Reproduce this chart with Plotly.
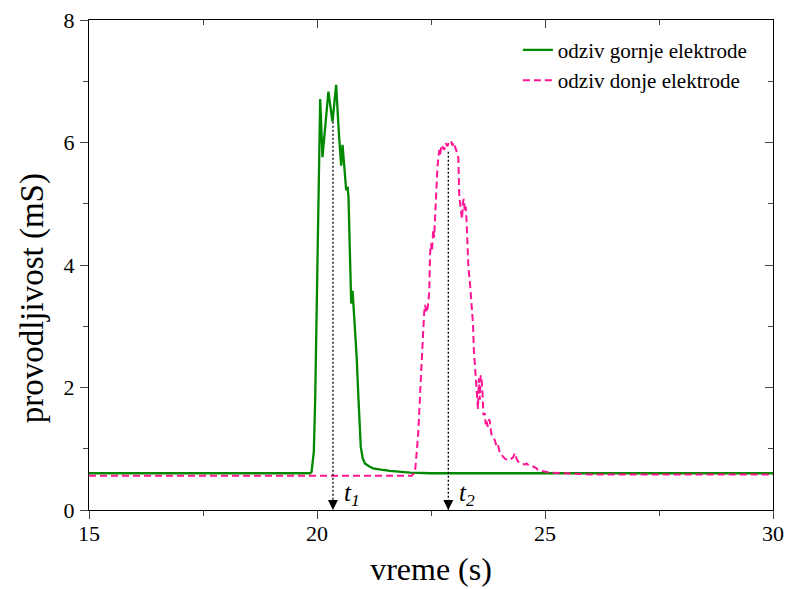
import plotly.graph_objects as go

# odziv gornje elektrode (green, solid)
t_gornja = [15, 19.85, 19.88, 19.93, 19.96, 19.99, 20.07, 20.12, 20.18, 20.25, 20.34, 20.42,
            20.48, 20.53, 20.56, 20.64, 20.67, 20.69, 20.75, 20.78, 20.82, 20.87, 20.91, 20.96,
            21.0, 21.05, 21.15, 21.23, 21.4, 21.6, 22.04, 22.5, 25, 30]
g_gornja = [0.6, 0.6, 0.62, 0.95, 1.8, 3.13, 6.71, 5.76, 6.31, 6.83, 6.34, 6.94,
            6.15, 5.62, 5.96, 5.22, 5.28, 5.12, 3.37, 3.58, 3.1, 2.5, 1.8, 1.03,
            0.85, 0.76, 0.71, 0.68, 0.66, 0.64, 0.61, 0.6, 0.6, 0.6]

# odziv donje elektrode (pink, dashed)
t_donja = [15, 22.08, 22.15, 22.22, 22.29, 22.33, 22.35, 22.37, 22.40, 22.43, 22.46, 22.48,
           22.50, 22.52, 22.55, 22.57, 22.59, 22.61, 22.64, 22.68, 22.70, 22.73, 22.76, 22.79,
           22.82, 22.86, 22.90, 22.94, 22.97, 23.00, 23.05, 23.10, 23.12, 23.15, 23.18, 23.20,
           23.22, 23.24, 23.26, 23.28, 23.30, 23.32, 23.36, 23.40, 23.42, 23.44, 23.47, 23.49,
           23.51, 23.53, 23.55, 23.57, 23.59, 23.61, 23.63, 23.65, 23.68, 23.70, 23.72, 23.74,
           23.77, 23.79, 23.82, 23.86, 23.90, 23.94, 23.97, 24.01, 24.06, 24.12, 24.18, 24.23,
           24.30, 24.34, 24.38, 24.41, 24.46, 24.52, 24.56, 24.60, 24.66, 24.74, 24.80, 24.85,
           24.96, 25.11, 25.4, 26, 30]
g_donja = [0.56, 0.56, 0.62, 1.25, 2.34, 3.0, 3.21, 3.35, 3.22, 3.32, 3.54, 4.19,
           4.35, 4.22, 4.58, 4.45, 4.84, 5.28, 5.58, 5.88, 5.80, 5.96, 5.92, 5.88,
           5.99, 5.94, 6.01, 6.03, 5.95, 6.0, 5.88, 5.75, 5.12, 4.90, 4.75, 5.02,
           5.08, 4.88, 4.96, 4.72, 4.41, 3.97, 3.65, 3.32, 3.05, 2.61, 2.30, 2.18,
           1.95, 1.65, 2.15, 1.80, 2.20, 2.12, 1.90, 1.55, 1.58, 1.40, 1.47, 1.36,
           1.48, 1.45, 1.25, 1.18, 1.14, 1.03, 1.06, 0.93, 0.88, 0.84, 0.82, 0.82,
           0.86, 0.93, 0.83, 0.79, 0.78, 0.76, 0.74, 0.76, 0.72, 0.71, 0.69, 0.65,
           0.63, 0.61, 0.6, 0.58, 0.58]

# t1, t2 markers
t_oznake = [20.35, 22.88]
t_vrh = [6.34, 5.85]
t_tekst = ["<i>t</i><sub><i>1</i></sub>", "<i>t</i><sub><i>2</i></sub>"]

FONT = "Liberation Serif"

fig = go.Figure()

fig.add_trace(go.Scatter(x=t_gornja, y=g_gornja, mode="lines", name="odziv gornje elektrode",
                         line=dict(color="#008800", width=2.3)))
fig.add_trace(go.Scatter(x=t_donja, y=g_donja, mode="lines", name="odziv donje elektrode",
                         line=dict(color="#ff1493", width=2, dash="7px,4px")))

# dotted drop lines with arrow heads
for tx, top in zip(t_oznake, t_vrh):
    fig.add_trace(go.Scatter(x=[tx, tx], y=[top, 0], mode="lines", showlegend=False,
                             line=dict(color="black", width=1.3, dash="2px,2px")))
fig.add_trace(go.Scatter(x=t_oznake, y=[0, 0], mode="markers", showlegend=False,
                         marker=dict(symbol="arrow-down", size=10, color="black")))

# empty trace to get top/right axes with inner ticks
fig.add_trace(go.Scatter(x=[], y=[], xaxis="x2", yaxis="y2", showlegend=False))

for tx, txt in zip(t_oznake, t_tekst):
    fig.add_annotation(x=tx + 0.2, y=0.25, text=txt, showarrow=False, xanchor="left",
                       font=dict(family=FONT, size=25, color="black"))

# y title sits a bit below the middle of the axis, like in the original
fig.add_annotation(text="provodljivost (mS)", textangle=-90, showarrow=False,
                   xref="paper", yref="paper", x=0, y=0.432, xanchor="center", yanchor="middle",
                   xshift=-57, font=dict(family=FONT, size=33, color="black"))

fig.update_layout(
    width=785, height=589,
    margin=dict(l=89, r=12, t=20, b=79),
    paper_bgcolor="white", plot_bgcolor="white",
    font=dict(family=FONT, color="black"),
    showlegend=True,
    legend=dict(x=0.627, y=0.98, xanchor="left", yanchor="top", bgcolor="rgba(0,0,0,0)",
                font=dict(family=FONT, size=21, color="black"), tracegroupgap=0),
    xaxis=dict(range=[15, 30], dtick=5, ticks="outside", ticklen=8, tickwidth=1.3,
               showline=True, linecolor="black", linewidth=1.3, mirror=True,
               showgrid=False, zeroline=False, automargin=False, ticklabelstandoff=-5,
               minor=dict(dtick=2.5, ticks="outside", ticklen=5, tickwidth=1.3),
               tickfont=dict(family=FONT, size=22, color="black"),
               title=dict(text="vreme (s)", font=dict(family=FONT, size=32), standoff=13)),
    yaxis=dict(range=[0, 8], dtick=2, ticks="outside", ticklen=8, tickwidth=1.3,
               showline=True, linecolor="black", linewidth=1.3, mirror=True,
               showgrid=False, zeroline=False, automargin=False, ticklabelstandoff=1,
               minor=dict(dtick=1, ticks="outside", ticklen=5, tickwidth=1.3),
               tickfont=dict(family=FONT, size=22, color="black")),
    xaxis2=dict(range=[15, 30], dtick=5, overlaying="x", side="top", ticks="inside",
                ticklen=8, tickwidth=1.3, showticklabels=False, showgrid=False,
                zeroline=False, showline=False, automargin=False,
                minor=dict(dtick=2.5, ticks="inside", ticklen=5, tickwidth=1.3)),
    yaxis2=dict(range=[0, 8], dtick=2, overlaying="y", side="right", ticks="inside",
                ticklen=8, tickwidth=1.3, showticklabels=False, showgrid=False,
                zeroline=False, showline=False, automargin=False,
                minor=dict(dtick=1, ticks="inside", ticklen=5, tickwidth=1.3)),
)

# drop the default 8px body margin so the figure fills the window exactly
fig.write_html("out.html", config={"displayModeBar": False},
               post_script="document.body.style.margin='0px';")
